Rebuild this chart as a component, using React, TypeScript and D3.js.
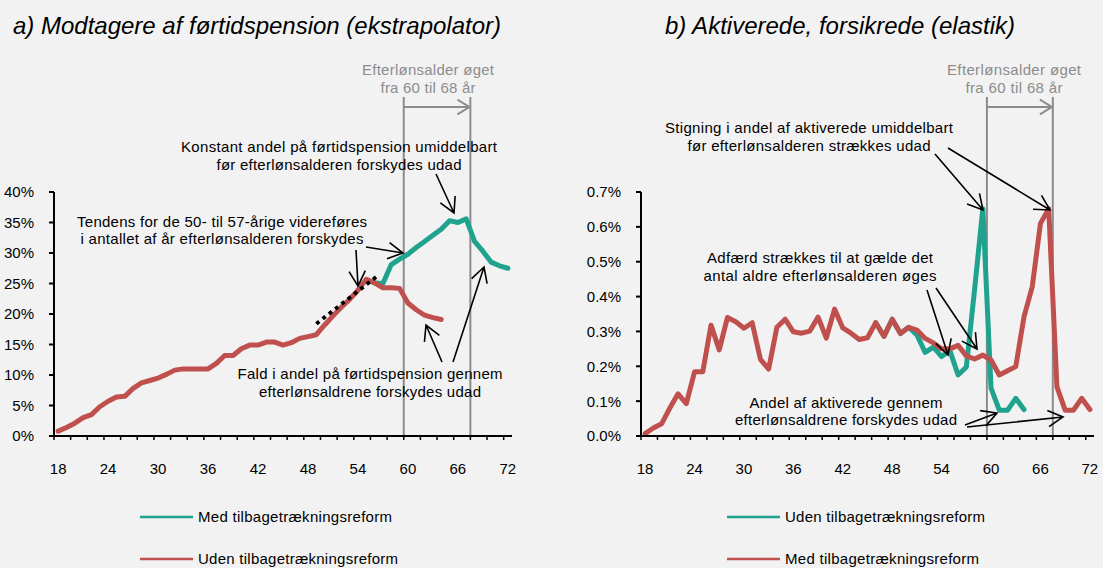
// App.tsx
// two Excel-style line panels: a) førtidspension, b) aktiverede forsikrede
import React from 'react';
import * as d3 from 'd3';

const ages = [18, 19, 20, 21, 22, 23, 24, 25, 26, 27, 28, 29, 30, 31, 32, 33, 34, 35, 36, 37, 38, 39, 40, 41, 42, 43, 44, 45,
  46, 47, 48, 49, 50, 51, 52, 53, 54, 55, 56, 57, 58, 59, 60, 61, 62, 63, 64, 65, 66, 67, 68, 69, 70, 71, 72];
const ageLabels = [18, 24, 30, 36, 42, 48, 54, 60, 66, 72];
const ageMarks = [60, 68];

// a) Modtagere af førtidspension (pct.)
const leftUdenFrom = 18;
const leftUden = [0.8, 1.4, 2.1, 3.0, 3.5, 4.8, 5.7, 6.4, 6.5, 7.8, 8.7, 9.1, 9.5, 10.1, 10.8, 11.0, 11.0, 11.0, 11.0, 11.9,
  13.2, 13.2, 14.3, 14.9, 14.9, 15.4, 15.4, 14.9, 15.3, 16.0, 16.3, 16.6, 18.2, 19.7, 21.1, 22.4, 23.9, 25.7, 25.1, 24.3,
  24.3, 24.2, 21.8, 20.7, 19.8, 19.4, 19.1];
const leftMedFrom = 56;
const leftMed = [25.1, 25.0, 28.1, 29.0, 29.8, 30.9, 31.9, 32.9, 33.9, 35.3, 35.0, 35.6, 31.9, 30.3, 28.5, 27.9, 27.5];
const leftTrendAges = [49, 56.5];
const leftTrend = [18.4, 26.4];
const leftTicks = [0, 5, 10, 15, 20, 25, 30, 35, 40];

// b) Aktiverede, forsikrede (pct.)
const rightMedFrom = 18;
const rightMed = [0.007, 0.023, 0.035, 0.080, 0.121, 0.093, 0.184, 0.184, 0.318, 0.247, 0.340, 0.328, 0.309, 0.325, 0.220,
  0.192, 0.312, 0.335, 0.299, 0.295, 0.301, 0.341, 0.281, 0.364, 0.310, 0.295, 0.277, 0.282, 0.325, 0.286, 0.335, 0.294,
  0.312, 0.304, 0.280, 0.267, 0.250, 0.250, 0.260, 0.230, 0.221, 0.232, 0.218, 0.175, 0.187, 0.199, 0.342, 0.428, 0.610,
  0.652, 0.141, 0.074, 0.074, 0.108, 0.076];
const rightUdenFrom = 46;
const rightUden = [0.325, 0.286, 0.335, 0.294, 0.312, 0.290, 0.240, 0.255, 0.228, 0.245, 0.175, 0.198, 0.420, 0.652, 0.137,
  0.074, 0.074, 0.108, 0.076];
const rightTicks = [0, 0.1, 0.2, 0.3, 0.4, 0.5, 0.6, 0.7];

const teal = '#1fa38e';
const red = '#c0504d';
const grey = '#8c8c8c';
const font = "'Liberation Sans', Arial, sans-serif";

function arrowPath(x1: number, y1: number, x2: number, y2: number, len = 17, spread = 0.5) {
  const a = Math.atan2(y2 - y1, x2 - x1);
  const w1 = [x2 - len * Math.cos(a - spread), y2 - len * Math.sin(a - spread)];
  const w2 = [x2 - len * Math.cos(a + spread), y2 - len * Math.sin(a + spread)];
  return `M${x1},${y1}L${x2},${y2}M${w1[0]},${w1[1]}L${x2},${y2}L${w2[0]},${w2[1]}`;
}

// text lines centred at cx, with Excel-like stretched spacing
function Note({ cx, lines, fill = '#000' }: { cx: number; lines: [string, number, number][]; fill?: string }) {
  return (
    <g fontFamily={font} fontSize={15} fill={fill} textAnchor="middle">
      {lines.map(([t, y, w], i) => (
        <text key={i} x={cx} y={y} textLength={w} lengthAdjust="spacing">{t}</text>
      ))}
    </g>
  );
}

function Arrows({ list }: { list: number[][] }) {
  return (
    <g fill="none" stroke="#000" strokeWidth={1.6}>
      {list.map((a, i) => <path key={i} d={arrowPath(a[0], a[1], a[2], a[3])} />)}
    </g>
  );
}

function Panel({ left, right, yMax, ticks, fmt, series, trend, legend }: any) {
  const x = d3.scaleLinear().domain([18, 73]).range([left, right]);
  const y = d3.scaleLinear().domain([0, yMax]).range([436, 192]);
  const line = d3.line<number[]>().x(d => x(d[0] + 0.5)).y(d => y(d[1]));
  const bottom = y(0);

  return (
    <g>
      {ageMarks.map(a => (
        <line key={a} x1={x(a)} x2={x(a)} y1={97} y2={bottom} stroke={grey} strokeWidth={2} />
      ))}
      <path d={arrowPath(x(60), 107, x(68) - 1, 107, 14, 0.55)} stroke={grey} strokeWidth={2} fill="none" />

      {series.map((s: any, i: number) => (
        <path key={i} d={line(s.values.map((v: number, j: number) => [s.from + j, v])) || ''}
          fill="none" stroke={s.color} strokeWidth={5} strokeLinejoin="round" strokeLinecap="round" />
      ))}
      {trend && (
        <path d={line(trend.ages.map((a: number, j: number) => [a, trend.values[j]])) || ''}
          fill="none" stroke="#000" strokeWidth={3.8} strokeDasharray="3.8 4.2" />
      )}

      {/* axes */}
      <line x1={left} x2={left} y1={y(yMax)} y2={bottom} stroke="#000" strokeWidth={2} />
      <line x1={left} x2={right} y1={bottom} y2={bottom} stroke="#000" strokeWidth={2} />
      {ticks.map((t: number) => (
        <g key={t}>
          <line x1={left - 5} x2={left} y1={y(t)} y2={y(t)} stroke="#000" strokeWidth={2} />
          <text x={left - 20} y={y(t)} dy="0.36em" textAnchor="end" fontFamily={font} fontSize={15}>{fmt(t)}</text>
        </g>
      ))}
      {ages.filter((a, i) => i % 2 === 0).map(a => (
        <line key={a} x1={x(a)} x2={x(a)} y1={bottom} y2={bottom + 4} stroke="#000" strokeWidth={1.5} />
      ))}
      {ageLabels.map(a => (
        <text key={a} x={x(a + 0.5)} y={474} textAnchor="middle" fontFamily={font} fontSize={15}>{a}</text>
      ))}

      {legend.map((l: any, i: number) => (
        <g key={i} fontFamily={font} fontSize={15}>
          <line x1={l.x} x2={l.x + 53} y1={517 + i * 42} y2={517 + i * 42} stroke={l.color} strokeWidth={2.5} />
          <text x={l.x + 58} y={522 + i * 42} textLength={l.w} lengthAdjust="spacing">{l.label}</text>
        </g>
      ))}
    </g>
  );
}

export default function App() {
  const pct0 = (v: number) => `${v}%`;
  const pct1 = (v: number) => `${v.toFixed(1)}%`;
  return (
    <div style={{ position: 'absolute', left: 0, top: 0, width: 1103, height: 568, background: '#f2f2f2' }}>
      <svg width={1103} height={568} style={{ display: 'block' }}>
        <rect width={1103} height={568} fill="#f2f2f2" />
        <g fontFamily={font} fontSize={24} fontStyle="italic">
          <text x={13} y={34} textLength={488} lengthAdjust="spacingAndGlyphs">a) Modtagere af førtidspension (ekstrapolator)</text>
          <text x={665} y={34} textLength={350} lengthAdjust="spacingAndGlyphs">b) Aktiverede, forsikrede (elastik)</text>
        </g>

        <Panel left={54} right={512} yMax={40} ticks={leftTicks} fmt={pct0}
          series={[{ from: leftMedFrom, values: leftMed, color: teal }, { from: leftUdenFrom, values: leftUden, color: red }]}
          trend={{ ages: leftTrendAges, values: leftTrend }}
          legend={[{ x: 140, color: teal, label: 'Med tilbagetrækningsreform', w: 194 },
            { x: 140, color: red, label: 'Uden tilbagetrækningsreform', w: 200 }]} />
        <Panel left={641} right={1094} yMax={0.7} ticks={rightTicks} fmt={pct1}
          series={[{ from: rightUdenFrom, values: rightUden, color: teal }, { from: rightMedFrom, values: rightMed, color: red }]}
          legend={[{ x: 727, color: teal, label: 'Uden tilbagetrækningsreform', w: 200 },
            { x: 727, color: red, label: 'Med tilbagetrækningsreform', w: 194 }]} />

        <Note cx={428} fill={grey} lines={[['Efterlønsalder øget', 75, 132], ['fra 60 til 68 år', 93, 95]]} />
        <Note cx={1014} fill={grey} lines={[['Efterlønsalder øget', 75, 134], ['fra 60 til 68 år', 93, 97]]} />

        <Note cx={339} lines={[['Konstant andel på førtidspension umiddelbart', 152, 316], ['før efterlønsalderen forskydes udad', 170, 245]]} />
        <Note cx={222} lines={[['Tendens for de 50- til 57-årige videreføres', 227, 290], ['i antallet af år efterlønsalderen forskydes', 244, 283]]} />
        <Note cx={370} lines={[['Fald i andel på førtidspension gennem', 379, 265], ['efterlønsaldrene forskydes udad', 397, 222]]} />
        <Arrows list={[[436, 174, 454, 213], [356, 250, 358, 286], [366, 247, 403, 253], [442, 362, 426, 325], [453, 362, 484, 267]]} />

        <Note cx={809} lines={[['Stigning i andel af aktiverede umiddelbart', 133, 288], ['før efterlønsalderen strækkes udad', 151, 243]]} />
        <Note cx={820} lines={[['Adfærd strækkes til at gælde det', 263, 226], ['antal aldre efterlønsalderen øges', 281, 233]]} />
        <Note cx={846} lines={[['Andel af aktiverede gennem', 408, 193], ['efterlønsaldrene forskydes udad', 425, 222]]} />
        <Arrows list={[[935, 154, 983, 210], [948, 148, 1050, 210], [927, 290, 948, 355], [936, 288, 977, 349],
          [965, 425, 997, 413], [967, 427, 1063, 417]]} />
      </svg>
    </div>
  );
}
